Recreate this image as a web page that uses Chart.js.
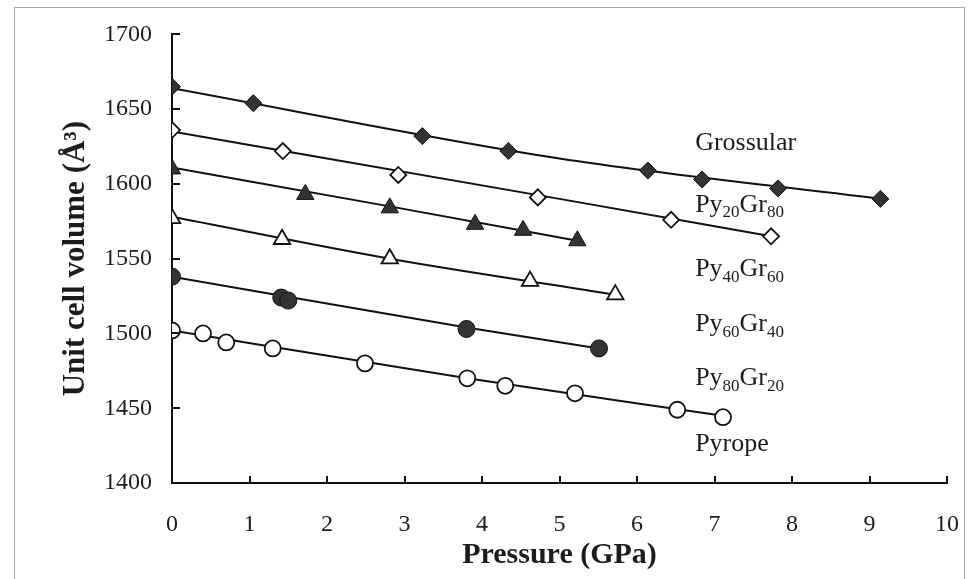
<!DOCTYPE html>
<html lang="en">
<head>
<meta charset="utf-8" />
<title>Garnet cell volume vs pressure</title>
<script src="https://cdn.jsdelivr.net/npm/chart.js@4.4.0/dist/chart.umd.min.js"></script>
<style type="text/css">
  body { margin: 0; background: #fff; }
  #wrap { width: 969px; height: 579px; }
</style>
</head>
<body>
<div id="wrap"><canvas id="eosChart" width="969" height="579"></canvas></div>

<script>
// measured points: pressure (GPa) and unit cell volume (A^3)
var grossularP = [0, 1.05, 3.23, 4.34, 6.14, 6.84, 7.82, 9.14];
var grossularV = [1665, 1654, 1632, 1622, 1609, 1603, 1597, 1590];

var py20P = [0, 1.43, 2.92, 4.72, 6.44, 7.73];
var py20V = [1636, 1622, 1606, 1591, 1576, 1565];

var py40P = [0, 1.72, 2.81, 3.91, 4.53, 5.23];
var py40V = [1610, 1593, 1584, 1573, 1569, 1562];

var py60P = [0, 1.42, 2.81, 4.62, 5.72];
var py60V = [1577, 1563, 1550, 1535, 1526];

var py80P = [0, 1.41, 1.5, 3.8, 5.51];
var py80V = [1538, 1524, 1522, 1503, 1490];

var pyropeP = [0, 0.4, 0.7, 1.3, 2.49, 3.81, 4.3, 5.2, 6.52, 7.11];
var pyropeV = [1502, 1500, 1494, 1490, 1480, 1470, 1465, 1460, 1449, 1444];

// fitted EOS curves, read at a few pressures
var grossularFitP = [0, 5, 9.14];
var grossularFitV = [1664, 1617, 1590];
var py20FitP = [0, 5, 7.73];
var py20FitV = [1635, 1590, 1565];
var py40FitP = [0, 2.81, 5.23];
var py40FitV = [1611, 1585, 1562];
var py60FitP = [0, 2.81, 5.72];
var py60FitV = [1578, 1550, 1526];
var py80FitP = [0, 3.8, 5.51];
var py80FitV = [1538, 1504, 1490];
var pyropeFitP = [0, 3.81, 7.11];
var pyropeFitV = [1502, 1470, 1445];

var xTicks = [0, 1, 2, 3, 4, 5, 6, 7, 8, 9, 10];
var yTicks = [1400, 1450, 1500, 1550, 1600, 1650, 1700];

// composition labels: [main, sub, main, sub]
var compLabels = [
  ['Grossular'],
  ['Py', '20', 'Gr', '80'],
  ['Py', '40', 'Gr', '60'],
  ['Py', '60', 'Gr', '40'],
  ['Py', '80', 'Gr', '20'],
  ['Pyrope']
];
var compLabelV = [1627, 1586, 1543, 1506, 1470, 1426];

function pts(xs, ys) {
  return xs.map(function (x, i) { return { x: x, y: ys[i] }; });
}

var ink = '#1c1c1c';
var dark = '#333333';

function markers(xs, ys, style, filled, r) {
  return {
    data: pts(xs, ys),
    showLine: false,
    pointStyle: style,
    pointRadius: r,
    backgroundColor: filled ? dark : '#ffffff',
    borderColor: '#111',
    pointBorderWidth: filled ? 1 : 1.8,
    order: 0
  };
}

function fitLine(xs, ys) {
  return {
    data: pts(xs, ys),
    showLine: true,
    pointRadius: 0,
    borderColor: '#111',
    borderWidth: 2,
    cubicInterpolationMode: 'monotone',
    order: 1
  };
}

var frameAndLabels = {
  id: 'frameAndLabels',
  beforeDraw: function (chart) {
    var ctx = chart.ctx;
    ctx.save();
    ctx.fillStyle = '#fff';
    ctx.fillRect(0, 0, chart.width, chart.height);
    ctx.strokeStyle = '#a8a8a8';
    ctx.lineWidth = 1;
    ctx.strokeRect(14.5, 7.5, 950, 620);
    ctx.restore();
  },
  afterDraw: function (chart) {
    var ctx = chart.ctx;
    var xs = chart.scales.x, ys = chart.scales.y;
    ctx.save();
    // inward tick marks
    ctx.strokeStyle = '#111';
    ctx.lineWidth = 2;
    xTicks.forEach(function (v) {
      var px = Math.round(xs.getPixelForValue(v));
      ctx.beginPath();
      ctx.moveTo(px, ys.bottom);
      ctx.lineTo(px, ys.bottom - 7);
      ctx.stroke();
    });
    yTicks.forEach(function (v) {
      var py = Math.round(ys.getPixelForValue(v));
      ctx.beginPath();
      ctx.moveTo(xs.left, py);
      ctx.lineTo(xs.left + 8, py);
      ctx.stroke();
    });
    // composition labels
    ctx.fillStyle = ink;
    ctx.textBaseline = 'middle';
    var lx = xs.getPixelForValue(6.75);
    compLabels.forEach(function (parts, i) {
      var y = ys.getPixelForValue(compLabelV[i]);
      var x = lx;
      parts.forEach(function (t, k) {
        var sub = k % 2 === 1;
        ctx.font = sub ? '17px "Liberation Serif"' : '26px "Liberation Serif"';
        ctx.fillText(t, x, sub ? y + 8 : y);
        x += ctx.measureText(t).width;
      });
    });
    ctx.restore();
  }
};

new Chart(document.getElementById('eosChart').getContext('2d'), {
  type: 'scatter',
  data: {
    datasets: [
      markers(grossularP, grossularV, 'rectRot', true, 8.5),
      markers(py20P, py20V, 'rectRot', false, 8),
      markers(py40P, py40V, 'triangle', true, 10),
      markers(py60P, py60V, 'triangle', false, 9.5),
      markers(py80P, py80V, 'circle', true, 8.5),
      markers(pyropeP, pyropeV, 'circle', false, 8),
      fitLine(grossularFitP, grossularFitV),
      fitLine(py20FitP, py20FitV),
      fitLine(py40FitP, py40FitV),
      fitLine(py60FitP, py60FitV),
      fitLine(py80FitP, py80FitV),
      fitLine(pyropeFitP, pyropeFitV)
    ]
  },
  options: {
    responsive: false,
    animation: false,
    layout: { padding: { top: 31, right: 22, bottom: 0, left: 0 } },
    plugins: { legend: { display: false }, tooltip: { enabled: false } },
    scales: {
      x: {
        type: 'linear',
        min: 0, max: 10,
        afterBuildTicks: function (s) { s.ticks = xTicks.map(function (v) { return { value: v }; }); },
        afterFit: function (s) { s.height = 96; s.paddingLeft = 0; s.paddingRight = 0; },
        grid: { display: true, drawOnChartArea: false, drawTicks: false },
        border: { display: true, color: '#111', width: 2 },
        ticks: {
          padding: 27, color: ink, font: { family: 'Liberation Serif', size: 24 },
          callback: function (v) { return String(v); }
        },
        title: {
          display: true, text: 'Pressure (GPa)', color: ink,
          font: { family: 'Liberation Serif', size: 30, weight: 'bold' },
          padding: { top: 0, bottom: 6 }
        }
      },
      y: {
        type: 'linear',
        min: 1400, max: 1700,
        afterBuildTicks: function (s) { s.ticks = yTicks.map(function (v) { return { value: v }; }); },
        afterFit: function (s) { s.width = 172; },
        grid: { display: true, drawOnChartArea: false, drawTicks: false },
        border: { display: true, color: '#111', width: 2 },
        ticks: {
          padding: 20, color: ink, font: { family: 'Liberation Serif', size: 24 },
          callback: function (v) { return String(v); }
        },
        title: {
          display: true, text: 'Unit cell volume (\u00c5\u00b3)', color: ink,
          font: { family: 'Liberation Serif', size: 31, weight: 'bold' },
          padding: { top: 57, bottom: 0 }
        }
      }
    }
  },
  plugins: [frameAndLabels]
});
</script>
</body>
</html>
